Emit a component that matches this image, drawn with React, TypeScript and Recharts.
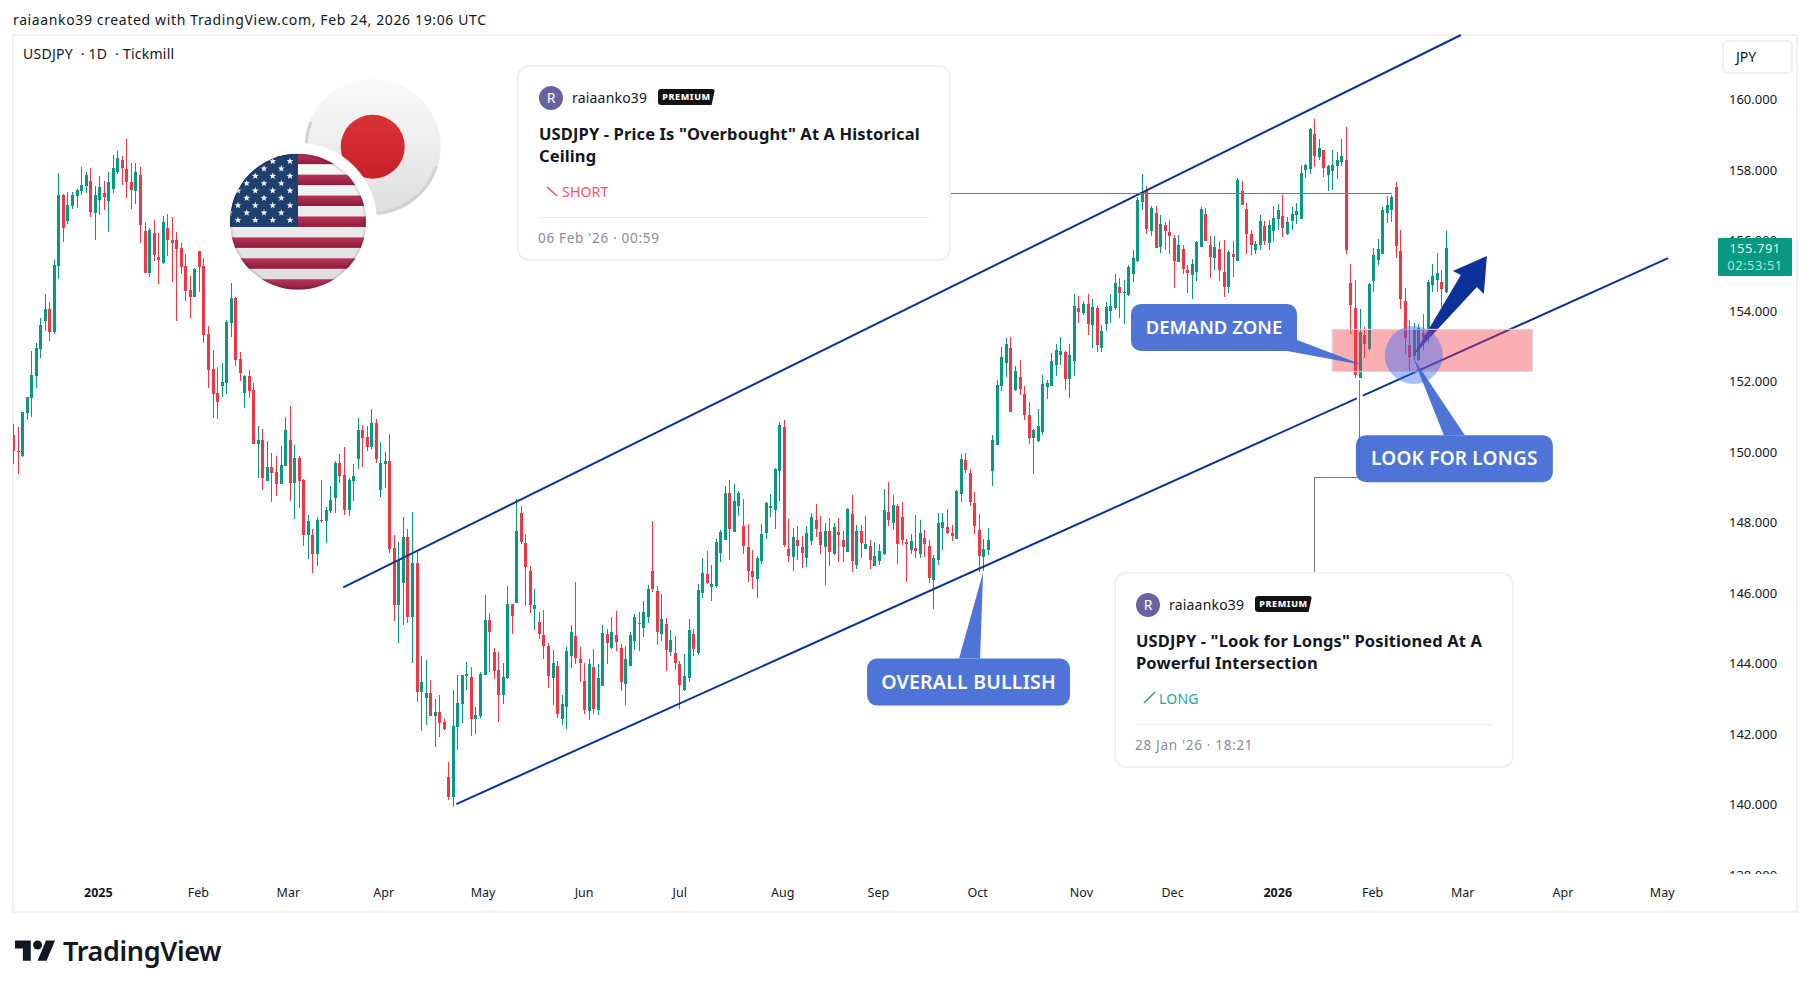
import React from "react";
import { ComposedChart, Bar, XAxis, YAxis, ReferenceLine, ReferenceArea, ReferenceDot } from "recharts";

const FONT = '"Noto Sans", "Open Sans", sans-serif';
const UP = "#089981";
const DOWN = "#f23645";
const LINE = "#0c3299";
const GRAY = "#787b86";
const EDGE = "#f1f1f3";

const opens = [150.48,150.03,149.89,151.11,151.53,152.16,152.92,153.72,154.06,153.40,155.28,157.29,156.55,156.98,157.26,157.40,157.55,157.69,156.78,157.15,157.35,157.12,157.46,157.95,158.28,158.03,157.66,157.40,157.86,156.27,155.08,156.21,155.53,155.36,156.36,156.02,156.02,155.79,155.28,154.60,154.40,155.70,155.28,153.35,152.35,151.67,151.87,151.96,153.66,154.37,152.64,151.67,152.16,151.76,150.23,150.34,149.18,149.58,149.44,149.09,149.60,150.34,149.12,149.83,149.21,147.65,147.65,147.11,148.07,148.04,148.33,148.70,149.69,149.35,148.35,149.18,149.80,150.63,150.43,150.15,150.82,148.92,149.66,149.75,147.28,145.66,146.28,147.59,145.32,146.85,143.19,143.02,143.17,142.51,142.63,142.34,140.78,140.21,142.20,142.85,143.64,143.61,142.43,142.51,143.67,145.23,144.33,143.82,143.11,143.59,145.69,145.71,148.27,147.42,146.62,145.54,145.18,144.81,144.50,143.59,143.93,142.43,142.77,144.21,144.78,144.13,143.50,142.65,143.90,142.68,143.36,144.84,144.44,144.81,144.44,143.42,143.93,144.64,145.15,145.01,145.32,146.62,146.06,144.84,145.12,144.33,144.30,143.99,143.25,143.59,144.84,144.30,146.00,146.54,146.17,146.20,147.14,147.50,148.84,147.73,148.47,147.90,147.30,146.62,146.40,146.91,147.70,148.41,148.35,149.46,150.71,147.25,147.02,147.50,147.30,146.99,147.47,148.07,147.73,147.30,147.76,147.11,147.73,147.50,147.16,148.24,146.79,147.76,147.25,147.33,146.76,146.91,147.11,148.30,147.99,148.47,148.16,147.45,147.22,147.28,147.11,147.56,147.33,146.37,146.93,147.85,147.87,147.70,147.53,148.81,149.77,149.40,148.55,147.79,147.02,147.22,149.46,150.20,151.87,152.52,152.95,151.76,152.13,151.65,151.05,150.40,150.32,150.57,151.85,151.87,152.47,152.75,152.84,152.07,152.58,154.09,153.94,154.20,153.60,154.09,152.95,153.63,154.00,154.09,154.68,154.51,154.45,155.05,155.42,157.09,157.43,156.27,156.78,155.82,156.44,156.24,156.07,155.39,155.76,155.16,155.02,155.11,155.82,156.75,155.87,155.50,155.76,155.11,154.68,155.62,155.42,157.40,156.89,156.18,155.73,155.87,156.41,155.93,156.27,156.61,156.70,156.18,156.55,156.72,156.61,158.00,158.03,159.02,158.37,158.57,157.86,157.97,158.11,158.23,158.28,154.79,154.09,152.10,153.32,152.92,154.85,155.45,155.62,156.78,156.87,157.52,155.70,154.28,153.04,152.72,152.61,153.38,153.46,154.74,154.88,154.82,154.54];
const highs = [150.80,150.71,151.14,151.57,152.86,153.09,153.80,154.48,154.25,155.45,157.92,157.32,157.38,157.38,157.46,158.09,157.95,158.06,157.55,157.83,157.69,157.95,158.43,158.54,158.40,158.88,158.20,158.20,158.09,156.53,156.36,156.58,156.21,156.70,156.75,156.67,156.24,155.93,155.62,155.00,155.22,155.70,155.50,153.57,152.89,152.41,152.52,153.74,154.79,154.40,152.84,152.19,152.33,151.96,150.74,150.66,150.32,149.97,149.89,150.17,151.00,151.31,150.20,149.89,149.24,148.21,147.82,148.16,149.21,148.44,149.04,149.75,149.95,150.15,149.27,149.66,150.97,150.77,150.74,151.22,150.94,150.29,150.00,150.51,147.65,147.45,148.16,147.82,148.30,147.16,144.21,144.10,143.53,142.99,143.10,142.43,141.21,143.25,143.67,143.67,144.04,143.90,142.77,143.76,145.94,145.43,144.44,144.33,144.02,146.20,145.69,148.67,148.47,147.67,146.76,146.11,145.46,145.52,144.58,144.38,144.07,143.11,144.47,145.09,146.31,144.47,144.02,144.13,144.41,143.99,145.09,144.98,145.32,145.49,144.55,144.50,144.89,145.40,145.46,145.77,146.23,148.04,146.20,145.97,145.29,144.95,144.78,144.07,144.27,145.26,144.98,146.26,146.99,147.19,146.79,147.53,147.79,149.04,149.21,149.09,148.89,148.67,147.96,147.22,147.05,147.96,148.58,148.81,149.55,150.85,150.91,148.10,147.85,147.90,147.62,147.90,148.27,148.53,148.19,147.99,148.13,147.99,148.13,147.76,148.41,148.78,147.93,147.93,148.19,147.50,147.45,147.39,148.95,149.15,148.78,148.53,148.58,147.53,147.67,148.21,148.07,147.79,147.50,147.08,148.27,148.27,148.38,147.93,148.92,149.95,149.97,149.52,148.87,148.24,147.53,147.85,150.48,152.04,152.99,153.24,153.27,152.44,152.61,151.87,151.41,150.66,151.22,152.19,152.04,152.81,153.07,153.27,152.87,153.07,154.48,154.42,154.28,154.48,154.34,154.14,153.60,154.25,154.48,155.05,154.94,154.88,155.31,155.73,157.23,157.89,157.55,156.98,156.98,156.72,156.53,156.58,156.16,156.16,155.87,155.31,155.48,155.99,156.95,156.92,156.13,156.13,155.99,156.02,155.73,155.99,157.77,157.69,157.06,156.30,155.99,156.72,156.55,156.58,156.98,157.04,157.29,156.67,156.95,157.06,158.14,158.17,159.19,159.45,158.88,158.57,158.14,158.57,158.51,158.88,159.22,155.33,154.88,154.06,153.54,154.79,155.79,156.04,156.95,157.26,157.29,157.66,156.30,154.65,153.74,153.66,153.63,153.91,154.88,155.33,155.64,155.16,156.27];
const lows = [149.66,149.38,149.86,150.91,151.00,151.82,152.67,153.43,153.15,153.35,154.91,155.96,156.47,156.89,156.92,157.29,157.35,156.67,156.02,156.72,156.87,156.24,157.35,157.89,157.57,157.21,156.89,157.04,155.93,155.08,154.96,155.42,154.76,155.33,155.56,154.82,153.72,155.05,154.28,153.80,154.40,154.54,153.09,151.82,150.97,150.94,151.56,151.65,153.26,152.44,152.01,151.25,151.53,150.23,149.27,148.92,149.18,148.58,148.75,149.09,149.60,148.61,148.10,148.41,147.33,146.96,146.56,146.76,147.99,147.42,148.27,148.27,149.12,148.21,148.19,148.61,149.52,149.58,150.03,150.09,149.69,148.72,148.98,147.14,145.21,144.58,145.09,145.15,144.02,142.91,142.08,142.25,142.51,141.63,141.92,142.12,140.13,139.93,141.55,142.31,143.25,141.95,142.00,142.46,143.67,143.76,143.56,142.34,142.85,143.56,144.84,145.71,147.39,145.63,145.43,144.95,144.69,144.13,143.30,142.83,142.46,142.25,142.14,143.87,143.99,143.48,142.57,142.40,142.57,142.54,143.36,143.99,144.41,144.35,143.22,142.83,143.93,144.38,144.35,144.75,145.15,146.03,144.52,144.63,143.79,144.21,143.82,142.71,143.22,143.48,144.21,144.24,145.86,146.26,145.77,146.14,146.87,147.50,146.93,147.73,148.19,147.11,146.31,146.11,145.86,146.82,147.53,148.16,147.82,148.61,147.30,146.87,146.62,146.93,146.71,146.73,147.36,147.59,147.11,146.23,146.76,147.08,146.87,146.87,147.16,146.59,146.68,146.99,147.25,146.68,146.76,146.79,147.08,147.90,147.79,146.82,147.36,146.31,147.11,146.99,146.99,147.02,146.28,145.54,146.79,147.22,147.67,147.47,147.53,148.58,149.40,148.47,147.67,146.59,146.62,147.08,149.04,150.20,151.73,152.13,151.14,151.73,151.62,150.91,150.23,149.38,150.29,150.48,151.50,151.87,152.16,152.47,151.76,151.53,152.16,153.66,153.89,153.32,152.95,152.84,152.84,153.43,153.66,154.03,153.80,153.63,154.42,154.82,155.39,156.87,156.18,156.13,155.79,155.64,155.73,155.62,154.65,155.39,155.05,154.51,154.34,154.85,155.82,155.99,154.94,155.16,154.85,154.40,154.51,154.96,155.42,157.01,155.62,155.59,155.62,155.73,155.87,155.73,155.99,156.30,156.10,156.16,156.30,156.47,156.61,157.77,157.89,158.09,158.28,157.80,157.40,157.43,157.75,158.12,155.62,153.35,152.10,152.10,152.67,152.87,154.54,155.31,155.62,156.50,156.53,155.50,154.06,152.78,152.30,152.61,152.58,152.89,153.09,154.54,154.54,154.11,154.51];
const closes = [150.03,150.00,151.14,151.56,152.18,152.95,153.60,154.06,153.40,155.31,157.29,156.36,157.01,157.29,157.43,157.57,157.86,156.81,157.29,157.52,157.23,157.66,158.06,158.34,158.06,157.66,157.43,157.95,156.44,155.08,156.30,155.59,155.45,156.53,156.02,155.93,155.76,155.25,154.57,154.40,155.19,155.25,153.32,152.33,151.65,151.42,151.99,153.68,154.37,152.61,152.24,152.16,151.73,150.23,150.34,149.27,149.58,149.41,149.09,149.63,150.63,149.12,149.83,149.18,147.65,148.04,147.11,148.07,148.04,148.35,148.64,149.69,149.32,148.35,149.21,149.32,150.63,150.40,150.15,150.82,149.80,149.69,149.75,147.25,145.66,146.93,147.59,145.32,146.85,143.19,143.48,143.17,142.51,142.63,142.31,142.14,140.21,142.23,142.88,143.67,143.70,142.43,142.54,143.70,145.23,144.89,143.79,143.11,143.61,145.69,145.35,147.76,147.45,146.74,145.66,145.66,144.84,144.50,143.64,144.02,142.57,142.85,144.35,144.89,144.16,144.02,142.68,143.99,142.71,143.59,144.86,144.58,144.89,144.61,143.48,144.13,144.81,145.32,145.12,145.46,146.11,146.11,144.89,145.26,144.38,144.67,144.02,143.39,143.64,144.95,144.41,146.09,146.56,146.28,146.26,147.45,147.73,148.84,147.82,148.61,148.84,147.33,146.62,146.45,146.99,147.67,148.55,148.47,149.52,150.77,147.36,147.05,147.59,147.33,147.14,147.70,148.16,147.82,147.36,147.76,147.16,147.87,147.65,147.30,148.38,146.91,147.76,147.42,147.39,146.93,147.05,147.19,148.35,148.07,148.50,147.39,147.50,147.39,147.47,147.19,147.70,147.39,146.42,146.99,147.99,148.02,147.70,147.62,148.89,149.80,149.49,148.58,147.90,147.05,147.25,147.50,150.34,151.90,152.69,153.07,151.14,152.30,151.79,151.05,150.40,150.63,150.74,151.93,151.96,152.58,152.89,152.87,152.07,152.75,154.14,153.97,154.20,153.63,154.11,153.04,153.43,154.11,154.14,154.79,154.51,154.54,155.25,155.50,157.15,157.32,156.33,156.92,155.79,156.47,156.27,156.13,155.42,155.87,155.19,155.08,155.33,155.96,156.89,155.99,155.53,155.82,155.16,154.68,155.67,155.53,157.72,157.01,156.18,155.87,155.90,156.55,155.99,156.44,156.64,156.87,156.36,156.53,156.75,156.84,157.92,158.14,159.16,158.40,158.62,158.06,158.11,158.14,158.28,158.40,155.73,154.17,152.18,153.40,153.07,154.76,155.59,155.76,156.87,157.01,157.23,155.84,154.34,153.24,152.69,153.46,153.52,153.24,154.82,154.99,155.08,154.62,155.79];

const priceTicks = [138,140,142,144,146,148,150,152,154,156,158,160];
const timeTickPositions = [18.75,40.8,60.66,81.7,103.6,125.9,147,169.7,190.8,212.7,235.6,255.7,278.9,299.8,319.7,341.8,363.7];
const timeTickLabels = ["2025","Feb","Mar","Apr","May","Jun","Jul","Aug","Sep","Oct","Nov","Dec","2026","Feb","Mar","Apr","May"];

const upperChannel = [{ x: 72.78, y: 146.16 }, { x: 319.3, y: 161.83 }];
const lowerChannel = [{ x: 97.71, y: 140.01 }, { x: 365.0, y: 155.5 }];
const ceilingLine = [{ x: 206.6, y: 157.33 }, { x: 304.1, y: 157.33 }];
const linkGap = [{ x: 297.0, y: 151.82 }, { x: 297.0, y: 151.25 }];
const linkA = [{ x: 297.0, y: 152.04 }, { x: 297.0, y: 149.29 }];
const linkB = [{ x: 286.9, y: 149.29 }, { x: 297.0, y: 149.29 }];
const linkC = [{ x: 286.9, y: 149.29 }, { x: 286.9, y: 146.57 }];

const rows = opens.map((o, i) => ({ i, open: o, high: highs[i], low: lows[i], close: closes[i] }));

const W = 1810, H = 990;
const MARGIN = { top: 35, left: 13, right: 102, bottom: 115 };
const X_DOMAIN: [number, number] = [-0.07, 373.8];
const Y_DOMAIN: [number, number] = [138.0, 161.83];

function Candle(props: any) {
  const { x, y, width, height, payload } = props;
  const top = Math.min(y, y + height);
  const h = Math.abs(height);
  const k = h / (payload.high - payload.low);
  const up = payload.close >= payload.open;
  const color = up ? UP : DOWN;
  const bodyTop = top + (payload.high - Math.max(payload.open, payload.close)) * k;
  const bodyH = Math.abs(payload.close - payload.open) * k;
  const cx = Math.floor(x + width / 2);
  return (
    <g shapeRendering="crispEdges">
      <rect x={cx} y={Math.round(top)} width={1} height={Math.max(1, Math.round(h))} fill={color} />
      <rect x={cx - 1} y={Math.round(bodyTop)} width={3} height={Math.max(1, Math.round(bodyH))} fill={color} />
    </g>
  );
}

function TimeTick(props: any) {
  const { x, y, index } = props;
  const label = timeTickLabels[index];
  const bold = label === "2025" || label === "2026";
  return (
    <text x={x} y={y + 14} textAnchor="middle" fontFamily={FONT} fontSize={12.5} fontWeight={bold ? 700 : 400} fill="#131722">
      {label}
    </text>
  );
}

function Overlay({ children }: { children: React.ReactNode }) {
  return (
    <div style={{ position: "absolute", left: 0, top: 0 }}>
      <ComposedChart width={W} height={H} data={rows} margin={MARGIN} style={{ background: "transparent" }}>
        <XAxis dataKey="i" type="number" domain={X_DOMAIN} allowDataOverflow hide />
        <YAxis type="number" domain={Y_DOMAIN} allowDataOverflow hide />
        {children}
      </ComposedChart>
    </div>
  );
}

function Callout(props: any) {
  const { cx, cy, box, base, text, fs, ls } = props;
  const [bx, by, bw, bh] = box;
  return (
    <g>
      <g opacity={0.9}>
        <rect x={cx + bx} y={cy + by} width={bw} height={bh} rx={10} fill="#3d65d4" />
        <polygon points={`${cx},${cy} ${cx + base[0]},${cy + base[1]} ${cx + base[2]},${cy + base[3]}`} fill="#3d65d4" />
      </g>
      <text x={cx + bx + bw / 2} y={cy + by + bh / 2 + 6.5} textAnchor="middle" fontFamily={FONT} fontWeight={600} fontSize={fs} letterSpacing={ls} fill="#fff">
        {text}
      </text>
    </g>
  );
}

function BigArrow(props: any) {
  const { cx, cy } = props;
  const pts = [[0, 0], [48, -81], [40, -85], [74, -100], [71, -62], [64, -69]].map(([a, b]) => `${cx + a},${cy + b}`).join(" ");
  return <polygon points={pts} fill={LINE} />;
}

function starPoints(cx: number, cy: number, r: number) {
  const out: string[] = [];
  for (let k = 0; k < 10; k++) {
    const rad = k % 2 === 0 ? r : r * 0.42;
    const a = -Math.PI / 2 + (k * Math.PI) / 5;
    out.push(`${cx + rad * Math.cos(a)},${cy + rad * Math.sin(a)}`);
  }
  return out.join(" ");
}

function Flags() {
  const us = { x: 298, y: 221.7, r: 68 };
  const jp = { x: 372.7, y: 146.7, r: 68 };
  const stripeH = 136 / 13;
  const stars: React.ReactNode[] = [];
  for (let r = 0; r < 9; r++) {
    const columns = r % 2 === 0 ? [290, 272.7, 255.3, 238] : [281.3, 264, 246.7, 229.5];
    columns.forEach((sx, idx) => {
      stars.push(<polygon key={`${r}-${idx}`} points={starPoints(sx, 161.3 + r * 7.35, 3.6)} fill="#eef1f5" />);
    });
  }
  return (
    <svg width={W} height={H} style={{ position: "absolute", left: 0, top: 0, pointerEvents: "none" }}>
      <defs>
        <linearGradient id="jpBg" x1="0" y1="0" x2="0" y2="1">
          <stop offset="0" stopColor="#fbfbfb" />
          <stop offset="1" stopColor="#dedede" />
        </linearGradient>
        <linearGradient id="jpRed" x1="0" y1="0" x2="0" y2="1">
          <stop offset="0" stopColor="#dc3139" />
          <stop offset="1" stopColor="#c62127" />
        </linearGradient>
        <linearGradient id="usRed" x1="0" y1="0" x2="0" y2="1">
          <stop offset="0" stopColor="#b93557" />
          <stop offset="1" stopColor="#8f1c3d" />
        </linearGradient>
        <linearGradient id="usWhite" x1="0" y1="0" x2="0" y2="1">
          <stop offset="0" stopColor="#fafafa" />
          <stop offset="1" stopColor="#dcdcdc" />
        </linearGradient>
        <clipPath id="usClip">
          <circle cx={us.x} cy={us.y} r={us.r} />
        </clipPath>
      </defs>
      <circle cx={jp.x} cy={jp.y} r={jp.r} fill="url(#jpBg)" />
      <circle cx={jp.x} cy={jp.y} r={jp.r - 1.5} fill="none" stroke="#cfcfcf" strokeWidth={3} strokeDasharray="214 214" strokeDashoffset={-20} opacity={0.9} />
      <circle cx={jp.x} cy={jp.y} r={32} fill="url(#jpRed)" />
      <circle cx={us.x} cy={us.y} r={79} fill="#fff" />
      <g clipPath="url(#usClip)">
        <rect x={us.x - us.r} y={us.y - us.r} width={us.r * 2} height={us.r * 2} fill="url(#usWhite)" />
        {Array.from({ length: 7 }).map((_, k) => (
          <rect key={k} x={us.x - us.r} y={us.y - us.r + k * 2 * stripeH} width={us.r * 2} height={stripeH} fill="url(#usRed)" />
        ))}
        <rect x={us.x - us.r} y={us.y - us.r} width={us.r} height={stripeH * 7} fill="#1f3f6e" />
        {stars}
      </g>
      <circle cx={us.x} cy={us.y} r={us.r - 1} fill="none" stroke="#000" strokeOpacity={0.1} strokeWidth={2} />
    </svg>
  );
}

function Card({ left, top, width, height, title, dir, color, date, up }: any) {
  return (
    <div style={{ position: "absolute", left, top, width, height, boxSizing: "border-box", border: `2px solid ${EDGE}`, borderRadius: 12, background: "#fff", fontFamily: FONT, color: "#131722" }}>
      <div style={{ position: "absolute", left: 20, top: 19, width: 24, height: 24, borderRadius: 12, background: "#6a62a0", color: "#fff", fontSize: 14, lineHeight: "24px", textAlign: "center" }}>R</div>
      <div style={{ position: "absolute", left: 53, top: 21, fontSize: 14, lineHeight: "20px", letterSpacing: 0.2 }}>raiaanko39</div>
      <div style={{ position: "absolute", left: 139, top: 22, width: 57, height: 16, background: "#131313", clipPath: "polygon(0 0, 100% 0, 94% 100%, 0 100%)", borderRadius: 3, color: "#fff", fontSize: 9, fontWeight: 800, lineHeight: "16px", textAlign: "center", letterSpacing: 0.6 }}>PREMIUM</div>
      <div style={{ position: "absolute", left: 20, top: 56, width: width - 40, fontSize: 16.5, fontWeight: 700, lineHeight: "22px", letterSpacing: 0.12 }}>{title}</div>
      <svg style={{ position: "absolute", left: 27, top: 117 }} width={14} height={14}>
        {up ? <line x1={1} y1={12} x2={12} y2={1} stroke={color} strokeWidth={1.6} /> : <line x1={1} y1={3} x2={11} y2={12} stroke={color} strokeWidth={1.6} />}
      </svg>
      <div style={{ position: "absolute", left: up ? 43 : 43, top: 115, fontSize: 14, lineHeight: "20px", letterSpacing: 0.2, color }}>{dir}</div>
      <div style={{ position: "absolute", left: 20, right: 20, top: 150, height: 1, background: "#e9eaee" }} />
      <div style={{ position: "absolute", left: 19, top: 161, fontSize: 13.5, lineHeight: "20px", letterSpacing: 0.7, color: "#8a8d96" }}>{date}</div>
    </div>
  );
}

export default function App() {
  return (
    <div style={{ position: "absolute", left: 0, top: 0, width: W, height: H, overflow: "hidden", background: "#fff", fontFamily: FONT }}>
      <div style={{ position: "absolute", left: 13, top: 10, fontSize: 14, lineHeight: "20px", color: "#131722", letterSpacing: 0.63 }}>raiaanko39 created with TradingView.com, Feb 24, 2026 19:06 UTC</div>
      <div style={{ position: "absolute", left: 12, top: 34, width: 1786, height: 879, boxSizing: "border-box", border: `2px solid ${EDGE}` }} />

      <div style={{ position: "absolute", left: 0, top: 0 }}>
        <ComposedChart width={W} height={H} data={rows} margin={{ top: 35, left: 13, right: 12, bottom: 85 }}>
          <XAxis
            dataKey="i"
            type="number"
            domain={X_DOMAIN}
            allowDataOverflow
            ticks={timeTickPositions}
            interval={0}
            height={30}
            axisLine={false}
            tickLine={false}
            tick={<TimeTick />}
          />
          <YAxis
            orientation="right"
            type="number"
            domain={Y_DOMAIN}
            allowDataOverflow
            ticks={priceTicks}
            interval={0}
            width={90}
            axisLine={false}
            tickLine={false}
            tickSize={0}
            tickMargin={21}
            tickFormatter={(v: number) => v.toFixed(3)}
            tick={{ fontFamily: FONT, fontSize: 13, fill: "#131722" }}
          />
          <Bar dataKey={(d: any) => [d.low, d.high]} barSize={3} shape={<Candle />} isAnimationActive={false} />
        </ComposedChart>
      </div>

      <Overlay>
        <ReferenceLine segment={upperChannel} stroke={LINE} strokeWidth={2} />
        <ReferenceLine segment={lowerChannel} stroke={LINE} strokeWidth={2} />
        <ReferenceLine segment={linkGap} stroke="#fff" strokeWidth={6} />
        <ReferenceLine segment={ceilingLine} stroke={GRAY} strokeWidth={1} shapeRendering="crispEdges" />
        <ReferenceLine segment={linkA} stroke={GRAY} strokeWidth={1} shapeRendering="crispEdges" />
        <ReferenceLine segment={linkB} stroke={GRAY} strokeWidth={1} shapeRendering="crispEdges" />
        <ReferenceLine segment={linkC} stroke={GRAY} strokeWidth={1} shapeRendering="crispEdges" />
        <ReferenceDot x={308.7} y={152.72} r={1} shape={<BigArrow />} />
      </Overlay>

      <Overlay>
        <ReferenceArea x1={290.9} x2={335.1} y1={152.28} y2={153.48} fill="#f23645" fillOpacity={0.4} stroke="#e6d7da" strokeWidth={1} />
        <ReferenceDot x={308.9} y={152.75} r={29} fill="#2962ff" fillOpacity={0.4} stroke="none" />
        <ReferenceDot x={297.7} y={152.47} r={1} shape={<Callout box={[-232, -61, 166, 47]} base={[-66, -25, -76, -14]} text="DEMAND ZONE" fs={18.5} ls={0} />} />
        <ReferenceDot x={308.7} y={152.69} r={1} shape={<Callout box={[-57, 78, 197, 47]} base={[31, 78, 52, 78]} text="LOOK FOR LONGS" fs={19} ls={0.2} />} />
        <ReferenceDot x={213.9} y={146.58} r={1} shape={<Callout box={[-116, 86, 203, 47]} base={[-24, 86, -3, 86]} text="OVERALL BULLISH" fs={19.5} ls={0.2} />} />
      </Overlay>

      <div style={{ position: "absolute", left: 1720, top: 874, width: 70, height: 14, background: "#fff" }} />
      <div style={{ position: "absolute", left: 23, top: 44, fontSize: 14, lineHeight: "20px", color: "#131722", letterSpacing: 0.25, whiteSpace: "pre" }}>{"USDJPY \u00b7 1D \u00b7 Tickmill".replace(/ \u00b7 /g, "\u00a0 \u00b7 \u00a0".slice(0, 4))}</div>
      <div style={{ position: "absolute", left: 1722, top: 40, width: 71, height: 34, boxSizing: "border-box", border: `2px solid ${EDGE}`, borderRadius: 6, fontSize: 14, lineHeight: "30px", paddingLeft: 12, color: "#131722" }}>JPY</div>
      <div style={{ position: "absolute", left: 1718, top: 238, width: 74, height: 38, background: UP, borderRadius: 1, color: "#dff3ee", textAlign: "center", fontSize: 13, lineHeight: "17px", paddingTop: 2, boxSizing: "border-box", letterSpacing: 0.5 }}>
        <div>155.791</div>
        <div style={{ opacity: 0.8 }}>02:53:51</div>
      </div>

      <Flags />

      <Card left={517} top={65} width={434} height={196} up={false} color="#f7525f" dir="SHORT" date="06 Feb '26 · 00:59" title={'USDJPY - Price Is "Overbought" At A Historical Ceiling'} />
      <Card left={1114} top={572} width={400} height={196} up color="#22ab94" dir="LONG" date="28 Jan '26 · 18:21" title={'USDJPY - "Look for Longs" Positioned At A Powerful Intersection'} />

      <svg style={{ position: "absolute", left: 15, top: 935.5 }} width={40.6} height={31.6} viewBox="0 0 36 28">
        <path fill="#131722" d="M14 22H7V11H0V4h14v18zM28 22h-8l7.5-18h8L28 22z" />
        <circle cx={20} cy={8} r={4} fill="#131722" />
      </svg>
      <div style={{ position: "absolute", left: 63, top: 933, fontSize: 27, fontWeight: 600, lineHeight: "36px", color: "#131722", letterSpacing: -0.35 }}>TradingView</div>
    </div>
  );
}
